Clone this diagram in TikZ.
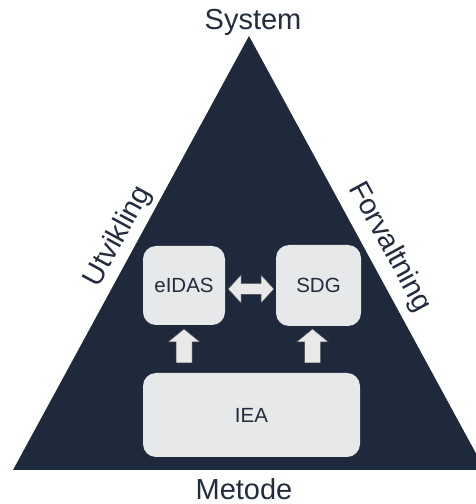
\documentclass[tikz,border=0pt]{standalone}
\usepackage{fontspec}
\setmainfont{Liberation Sans}
\definecolor{navy}{HTML}{1E2A3C}
\definecolor{boxgray}{HTML}{E7E8EA}
\definecolor{arrowgray}{HTML}{E9E9EA}
\definecolor{txtdark}{HTML}{222C3C}
\tikzset{
  box/.style={fill=boxgray, rounded corners=13pt, inner sep=0pt, font=\fontsize{20.5}{24}\selectfont, text=txtdark},
  outer/.style={font=\fontsize{29}{32}\selectfont, text=txtdark, inner sep=0pt, anchor=base},
  blockarrow/.style={fill=arrowgray, draw=black!70, line width=0.5pt, line join=miter}
}
\begin{document}
\begin{tikzpicture}[x=1pt,y=1pt]
\useasboundingbox (0,0) rectangle (475,504);
% triangle
\fill[navy] (13,34) -- (249,468) -- (485,34) -- cycle;
% outer labels
\node[outer] (system) at (253,474) {System};
\node[outer] (metode) at (244,4.5) {Metode};
\node[outer, rotate=61.4] (utv) at (125,264) {Utvikling};
\node[outer, rotate=-61.4] (forv) at (383,253) {Forvaltning};
% boxes
\node[box, minimum width=82pt, minimum height=79pt] (eidas) at (184,218.5) {eIDAS};
\node[box, minimum width=85pt, minimum height=81pt] (sdg) at (318.5,218.5) {SDG};
\node[box, minimum width=217pt, minimum height=84pt] (iea) at (251.5,89) {IEA};
% up arrows
\draw[blockarrow] (176,141) -- (176,162) -- (168,162) -- (184,175) -- (200,162) -- (192,162) -- (192,141) -- cycle;
\draw[blockarrow] (304.5,141) -- (304.5,162) -- (296.5,162) -- (312.5,175) -- (328.5,162) -- (320.5,162) -- (320.5,141) -- cycle;
% double arrow
\draw[blockarrow] (228,215) -- (241,229) -- (241,220.5) -- (261,220.5) -- (261,229) -- (274,215) -- (261,201) -- (261,209.5) -- (241,209.5) -- (241,201) -- cycle;
\end{tikzpicture}
\end{document}
